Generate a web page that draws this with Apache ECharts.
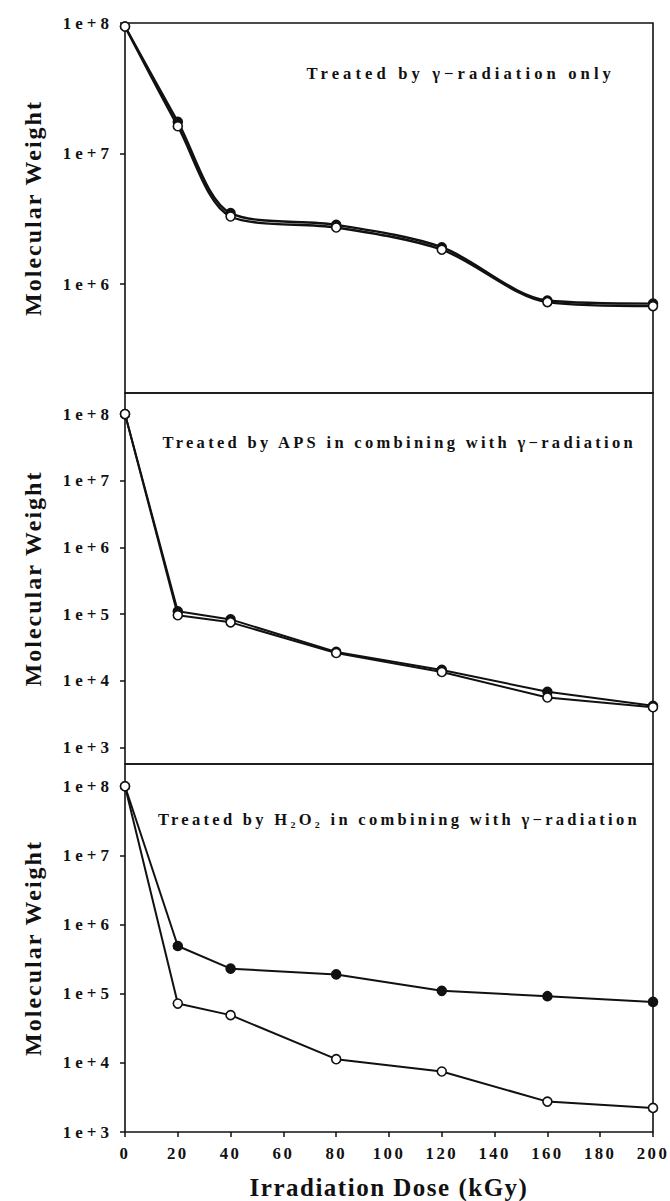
<!DOCTYPE html>
<html><head><meta charset="utf-8">
<script src="https://cdn.jsdelivr.net/npm/echarts@6/dist/echarts.min.js"></script>
<style>
html,body{margin:0;padding:0;background:#fff;}
#c{width:670px;height:1201px;}
#c text[style*="17px"]{letter-spacing:4px;}
#c text[style*="16.8px"]{letter-spacing:2.4px;}
#c text[style*="16.5px"]{letter-spacing:3.3px;}
#c text[style*="16.6px"]{letter-spacing:4.1px;}
#c text[style*="24px"]{letter-spacing:2px;}
#c text[style*="25px"]{letter-spacing:1.5px;}
</style></head><body><div id="c"></div>
<script>
// ---- data ----
const doses = [0, 20, 40, 80, 120, 160, 200];
const gammaFilled = [9.4e7, 1.75e7, 3.5e6, 2.85e6, 1.92e6, 7.5e5, 7.1e5];
const gammaHollow = [9.4e7, 1.62e7, 3.3e6, 2.72e6, 1.84e6, 7.3e5, 6.8e5];
const apsFilled   = [1e8, 1.1e5, 8.3e4, 2.7e4, 1.45e4, 6.8e3, 4.2e3];
const apsHollow   = [1e8, 9.6e4, 7.5e4, 2.6e4, 1.35e4, 5.6e3, 4.0e3];
const h2o2Filled  = [1e8, 4.9e5, 2.3e5, 1.9e5, 1.1e5, 9.2e4, 7.6e4];
const h2o2Hollow  = [1e8, 7.2e4, 4.9e4, 1.13e4, 7.5e3, 2.75e3, 2.23e3];
const yTicksTop = [1e6, 1e7, 1e8];
const yTicksMid = [1e3, 1e4, 1e5, 1e6, 1e7, 1e8];
const yTicksBot = [1e3, 1e4, 1e5, 1e6, 1e7, 1e8];
const annotations = [
  'Treated by γ−radiation only',
  'Treated by APS in combining with γ−radiation',
  'Treated by H₂O₂ in combining with γ−radiation'
];
const yTitle = 'Molecular Weight';
const xTitle = 'Irradiation Dose (kGy)';

const FF = '"Liberation Serif", "Times New Roman", serif';
const chart = echarts.init(document.getElementById('c'), null, {renderer: 'svg'});

const grids = [
  {left: 125, right: 17, top: 23, height: 370},
  {left: 125, right: 17, top: 393, height: 371},
  {left: 125, right: 17, top: 764, height: 370}
].map(g => Object.assign(g, {show: true, borderColor: '#111', borderWidth: 1.6, backgroundColor: 'transparent'}));

function xAx(i, showLabels) {
  return {
    type: 'value', gridIndex: i, min: 0, max: 200, interval: 20,
    axisLine: {show: false}, splitLine: {show: false},
    axisTick: {show: showLabels, inside: false, length: 5, lineStyle: {color: '#111', width: 1.5}},
    axisLabel: {show: showLabels, margin: 13, color: '#111', fontFamily: FF, fontWeight: 'bold', fontSize: 16.8},
    name: showLabels ? xTitle : '', nameLocation: 'middle', nameGap: 43,
    nameTextStyle: {color: '#111', fontFamily: FF, fontWeight: 'bold', fontSize: 25}
  };
}
function yAx(i, min, max, ticks) {
  return {
    type: 'log', logBase: 10, gridIndex: i, min: min, max: max,
    axisLine: {show: false}, splitLine: {show: false}, minorTick: {show: false},
    axisTick: {show: true, inside: false, length: 5, customValues: ticks, lineStyle: {color: '#111', width: 1.5}},
    axisLabel: {show: true, margin: 12, customValues: ticks, color: '#111', fontFamily: FF, fontWeight: 'bold', fontSize: 17,
      formatter: v => '1e+' + Math.round(Math.log10(v))},
    name: yTitle, nameLocation: 'middle', nameGap: 80,
    nameTextStyle: {color: '#111', fontFamily: FF, fontWeight: 'bold', fontSize: 24}
  };
}
function ser(i, vals, filled, smooth, lw) {
  return {
    type: 'line', xAxisIndex: i, yAxisIndex: i, data: doses.map((d, k) => [d, vals[k]]),
    smooth: smooth, symbol: 'circle', symbolSize: 9, showSymbol: true, clip: false, silent: true,
    lineStyle: {color: '#111', width: lw},
    itemStyle: {color: filled ? '#111' : '#fff', borderColor: '#111', borderWidth: 1.6},
    z: filled ? 2 : 3, emphasis: {disabled: true}
  };
}
const annoRight = [615, 636, 640];
const annoY = [73, 442, 819];
const annoSize = [16.6, 16.5, 16.5];
chart.setOption({
  animation: false,
  backgroundColor: '#fff',
  grid: grids,
  xAxis: [xAx(0, false), xAx(1, false), xAx(2, true)],
  yAxis: [yAx(0, 1.47e5, 1e8, yTicksTop), yAx(1, 562, 2.07e8, yTicksMid), yAx(2, 1e3, 2.1e8, yTicksBot)],
  series: [
    ser(0, gammaFilled, true, 0.3, 2.4), ser(0, gammaHollow, false, 0.3, 2.4),
    ser(1, apsFilled, true, false, 2), ser(1, apsHollow, false, false, 2),
    ser(2, h2o2Filled, true, false, 2), ser(2, h2o2Hollow, false, false, 2)
  ],
  graphic: annotations.map((t, i) => ({
    type: 'text', x: annoRight[i], y: annoY[i], silent: true,
    style: {text: t, fill: '#111', font: 'bold ' + annoSize[i] + 'px ' + FF, align: 'right', textAlign: 'right', verticalAlign: 'middle', textVerticalAlign: 'middle'}
  }))
});
</script></body></html>
